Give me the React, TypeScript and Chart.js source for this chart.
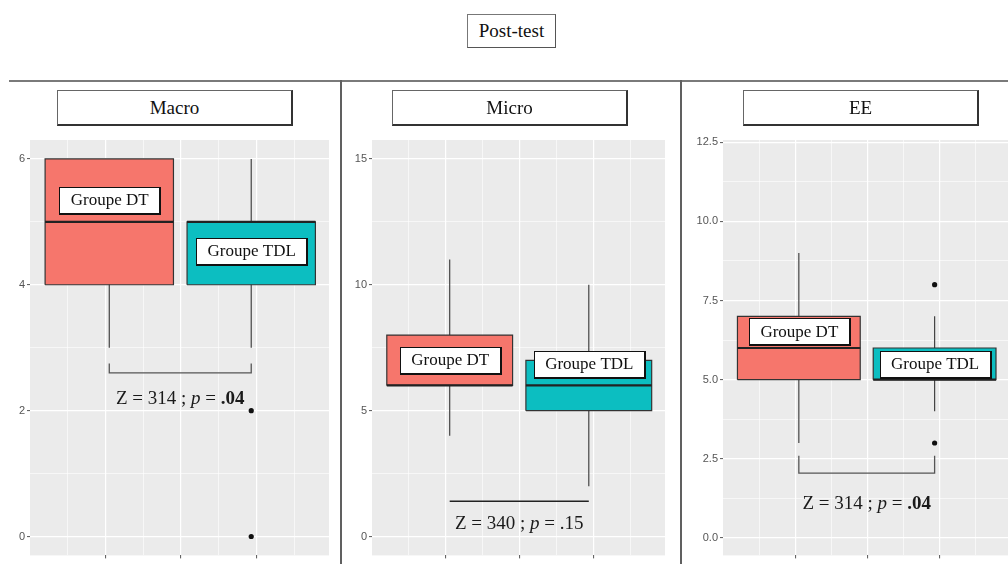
import React, { useEffect, useRef } from "react";
import { Chart, registerables } from "chart.js";

Chart.register(...registerables);

// ---------------- data ----------------
const figureTitle = "Post-test";
const panelNames = ["Macro", "Micro", "EE"];
const groupNames = ["Groupe DT", "Groupe TDL"];
const groupX = [1.05, 2.93];

const dtLow = [3, 4, 3];
const dtQ1 = [4, 6, 5];
const dtMed = [5, 6, 6];
const dtQ3 = [6, 8, 7];
const dtHigh = [6, 11, 9];
const dtOutliers: number[][] = [[], [], []];

const tdlLow = [3, 2, 4];
const tdlQ1 = [4, 5, 5];
const tdlMed = [5, 6, 5];
const tdlQ3 = [5, 7, 6];
const tdlHigh = [6, 10, 7];
const tdlOutliers: number[][] = [[2, 0], [], [8, 3]];

const yMin = [-0.3, -0.75, -0.55];
const yMax = [6.3, 15.75, 12.57];
const yMajorTicks = [
  [0, 2, 4, 6],
  [0, 5, 10, 15],
  [0, 2.5, 5, 7.5, 10, 12.5],
];
const yMinorTicks = [
  [1, 3, 5],
  [2.5, 7.5, 12.5],
  [1.25, 3.75, 6.25, 8.75, 11.25],
];
const yTickDecimals = [0, 0, 1];

const xMajorTicks = [1, 2, 3];
const xMinorTicks = [0.5, 1.5, 2.5, 3.5];

const statZ = [314, 340, 314];
const statP = [".04", ".15", ".04"];
const statBold = [true, false, true];
const statY = [2.19, 0.5, 1.07];

const bracketY = [2.6, 1.4, 2.05];
const bracketEndY: (number | null)[] = [2.75, null, 2.6];

const dtLabelY = [5.35, 7.03, 6.53];
const tdlLabelY = [4.54, 6.87, 5.5];

// ---------------- styles ----------------
const SERIF = '"Liberation Serif", "Times New Roman", serif';
const SANS = '"Liberation Sans", Arial, sans-serif';
const DT_COLOR = "#F6766C";
const TDL_COLOR = "#0CBEC1";
const PANEL_BG = "#EBEBEB";
const BOX_HALF = 0.85;

const canvasLeft = [0, 341, 681];
const canvasWidth = 340;
const canvasTop = 130;
const canvasHeight = 434;
const yAxisWidth = [30, 31, 42];
const padRight = [11, 16, 12];
const stripLeft = [57, 392, 743];

function Panel({ i }: { i: number }) {
  const ref = useRef<HTMLCanvasElement | null>(null);

  useEffect(() => {
    if (!ref.current) return;
    const groups = [
      { low: dtLow[i], q1: dtQ1[i], med: dtMed[i], q3: dtQ3[i], high: dtHigh[i], out: dtOutliers[i], color: DT_COLOR, labelY: dtLabelY[i] },
      { low: tdlLow[i], q1: tdlQ1[i], med: tdlMed[i], q3: tdlQ3[i], high: tdlHigh[i], out: tdlOutliers[i], color: TDL_COLOR, labelY: tdlLabelY[i] },
    ];
    const datasets: any[] = [];
    groups.forEach((s, g) => {
      const x = groupX[g];
      datasets.push({
        data: [{ x, y: s.low }, { x, y: s.high }],
        borderColor: "#444",
        borderWidth: 1.2,
        pointRadius: 0,
        fill: false,
        order: 10,
      });
      datasets.push({
        data: [
          { x: x - BOX_HALF, y: s.q1 },
          { x: x + BOX_HALF, y: s.q1 },
          { x: x + BOX_HALF, y: s.q3 },
          { x: x - BOX_HALF, y: s.q3 },
          { x: x - BOX_HALF, y: s.q1 },
        ],
        borderColor: "#333",
        borderWidth: 1.2,
        backgroundColor: s.color,
        fill: "shape",
        pointRadius: 0,
        order: 9,
      });
      datasets.push({
        data: [{ x: x - BOX_HALF, y: s.med }, { x: x + BOX_HALF, y: s.med }],
        borderColor: "#222",
        borderWidth: 2.2,
        pointRadius: 0,
        fill: false,
        order: 8,
      });
      if (s.out.length) {
        datasets.push({
          data: s.out.map((v) => ({ x, y: v })),
          showLine: false,
          pointRadius: 2.6,
          pointBackgroundColor: "#111",
          pointBorderWidth: 0,
          fill: false,
          order: 7,
        });
      }
    });
    const by = bracketY[i];
    const be = bracketEndY[i];
    const bracketPts =
      be === null
        ? [{ x: groupX[0], y: by }, { x: groupX[1], y: by }]
        : [
            { x: groupX[0], y: be },
            { x: groupX[0], y: by },
            { x: groupX[1], y: by },
            { x: groupX[1], y: be },
          ];
    datasets.push({
      data: bracketPts,
      borderColor: be === null ? "#222" : "#555",
      borderWidth: be === null ? 1.6 : 1.3,
      pointRadius: 0,
      fill: false,
      order: 6,
    });

    const majorsY = yMajorTicks[i];
    const allY = [...majorsY, ...yMinorTicks[i]].sort((a, b) => a - b);
    const allX = [...xMajorTicks, ...xMinorTicks].sort((a, b) => a - b);

    const bgPlugin = {
      id: "panelBg",
      beforeDraw(chart: any) {
        const { ctx, chartArea: a } = chart;
        ctx.save();
        ctx.fillStyle = PANEL_BG;
        ctx.fillRect(a.left, a.top, a.right - a.left, a.bottom - a.top);
        ctx.restore();
      },
    };

    const annPlugin = {
      id: "annotations",
      afterDatasetsDraw(chart: any) {
        const { ctx } = chart;
        const xs = chart.scales.x;
        const ys = chart.scales.y;
        ctx.save();
        // group labels
        ctx.font = `17px ${SERIF}`;
        ctx.textAlign = "center";
        ctx.textBaseline = "middle";
        groups.forEach((s, g) => {
          const cx = xs.getPixelForValue(groupX[g]);
          const cy = ys.getPixelForValue(s.labelY);
          const tw = ctx.measureText(groupNames[g]).width;
          const w = Math.round(tw + 22);
          const h = 26;
          const x0 = Math.round(cx - w / 2);
          const y0 = Math.round(cy - h / 2);
          ctx.fillStyle = "#111";
          ctx.fillRect(x0, y0, w + 2, h + 2);
          ctx.fillStyle = "#fff";
          ctx.fillRect(x0 + 1, y0 + 1, w - 1, h - 1);
          ctx.fillStyle = "#111";
          ctx.fillText(groupNames[g], cx + 0.5, cy + 1);
        });
        // statistic text
        const fs = 19;
        const parts = [
          { t: `Z = ${statZ[i]} ; `, f: `${fs}px ${SERIF}` },
          { t: "p", f: `italic ${fs}px ${SERIF}` },
          { t: " = ", f: `${fs}px ${SERIF}` },
          { t: statP[i], f: `${statBold[i] ? "bold " : ""}${fs}px ${SERIF}` },
        ];
        let total = 0;
        parts.forEach((p) => {
          ctx.font = p.f;
          total += ctx.measureText(p.t).width;
        });
        let px = xs.getPixelForValue((groupX[0] + groupX[1]) / 2) - total / 2;
        const py = ys.getPixelForValue(statY[i]);
        ctx.textAlign = "left";
        ctx.fillStyle = "#1a1a1a";
        parts.forEach((p) => {
          ctx.font = p.f;
          ctx.fillText(p.t, px, py);
          px += ctx.measureText(p.t).width;
        });
        ctx.restore();
      },
    };

    const chart = new Chart(ref.current, {
      type: "line",
      data: { datasets },
      plugins: [bgPlugin, annPlugin],
      options: {
        responsive: false,
        animation: false,
        events: [],
        layout: { padding: { top: 10, right: padRight[i], left: 0, bottom: 0 } },
        plugins: { legend: { display: false }, tooltip: { enabled: false } },
        scales: {
          x: {
            type: "linear",
            min: 0,
            max: 3.96,
            afterBuildTicks: (scale: any) => {
              scale.ticks = allX.map((v) => ({ value: v }));
            },
            afterFit: (scale: any) => {
              scale.height = 6;
            },
            ticks: { display: false },
            border: { display: false },
            grid: {
              color: "#ffffff",
              lineWidth: (c: any) => (xMajorTicks.includes(c.tick?.value) ? 1.2 : 0.6),
              drawTicks: true,
              tickLength: 3,
              tickWidth: 1,
              tickColor: (c: any) => (xMajorTicks.includes(c.tick?.value) ? "#555" : "rgba(0,0,0,0)"),
            },
          },
          y: {
            type: "linear",
            min: yMin[i],
            max: yMax[i],
            afterBuildTicks: (scale: any) => {
              scale.ticks = allY.map((v) => ({ value: v }));
            },
            afterFit: (scale: any) => {
              scale.width = yAxisWidth[i];
            },
            border: { display: false },
            ticks: {
              autoSkip: false,
              padding: 2,
              color: "#555",
              font: { family: SANS, size: 11 },
              callback: (v: any) => (majorsY.includes(v) ? Number(v).toFixed(yTickDecimals[i]) : ""),
            },
            grid: {
              color: "#ffffff",
              lineWidth: (c: any) => (majorsY.includes(c.tick?.value) ? 1.2 : 0.6),
              drawTicks: true,
              tickLength: 3,
              tickWidth: 1,
              tickColor: (c: any) => (majorsY.includes(c.tick?.value) ? "#555" : "rgba(0,0,0,0)"),
            },
          },
        },
      } as any,
    });
    return () => chart.destroy();
  }, [i]);

  return (
    <canvas
      ref={ref}
      width={canvasWidth}
      height={canvasHeight}
      style={{ position: "absolute", left: canvasLeft[i], top: canvasTop, width: canvasWidth, height: canvasHeight }}
    />
  );
}

export default function App() {
  return (
    <div
      style={{
        position: "absolute",
        left: 0,
        top: 0,
        width: 1008,
        height: 564,
        overflow: "hidden",
        background: "#fff",
        fontFamily: SERIF,
        color: "#111",
      }}
    >
      {panelNames.map((_, i) => (
        <Panel key={i} i={i} />
      ))}
      <div
        style={{
          position: "absolute",
          left: 467,
          top: 14,
          width: 89,
          height: 34,
          boxSizing: "border-box",
          border: "1px solid #777",
          borderRight: "1.5px solid #555",
          borderBottom: "1.5px solid #555",
          textAlign: "center",
          lineHeight: "31px",
          fontSize: 19,
        }}
      >
        {figureTitle}
      </div>
      <div style={{ position: "absolute", left: 9, top: 80, width: 1000, height: 2, background: "#7a7a7a" }} />
      <div style={{ position: "absolute", left: 340, top: 80, width: 2, height: 484, background: "#606060" }} />
      <div style={{ position: "absolute", left: 680, top: 80, width: 2, height: 484, background: "#606060" }} />
      {panelNames.map((name, i) => (
        <div
          key={name}
          style={{
            position: "absolute",
            left: stripLeft[i],
            top: 90,
            width: 236,
            height: 36,
            boxSizing: "border-box",
            background: "#fff",
            borderLeft: "1px solid #666",
            borderTop: "1px solid #666",
            borderRight: "2px solid #333",
            borderBottom: "2px solid #333",
            textAlign: "center",
            lineHeight: "33px",
            fontSize: 19,
          }}
        >
          {name}
        </div>
      ))}
    </div>
  );
}
